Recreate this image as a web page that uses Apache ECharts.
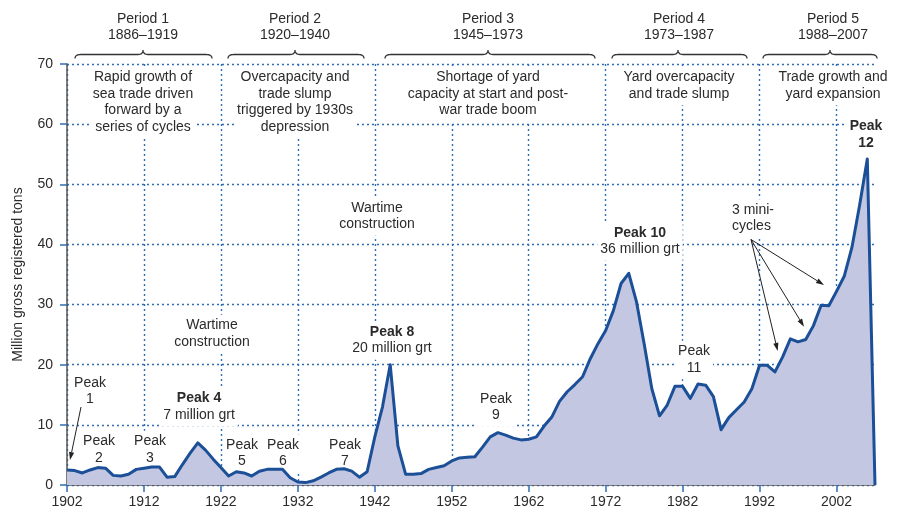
<!DOCTYPE html>
<html><head><meta charset="utf-8">
<script src="https://cdn.jsdelivr.net/npm/echarts@6/dist/echarts.min.js"></script>
<style>html,body{margin:0;padding:0;background:#fff}#c{width:900px;height:512px}</style>
</head><body><div id="c"></div>
<script>
// ---- data ----
const years = [1902,1903,1904,1905,1906,1907,1908,1909,1910,1911,1912,1913,1914,1915,1916,1917,1918,1919,1920,1921,
1922,1923,1924,1925,1926,1927,1928,1929,1930,1931,1932,1933,1934,1935,1936,1937,1938,1939,1940,1941,
1942,1943,1944,1945,1946,1947,1948,1949,1950,1951,1952,1953,1954,1955,1956,1957,1958,1959,1960,1961,
1962,1963,1964,1965,1966,1967,1968,1969,1970,1971,1972,1973,1974,1975,1976,1977,1978,1979,1980,1981,
1982,1983,1984,1985,1986,1987,1988,1989,1990,1991,1992,1993,1994,1995,1996,1997,1998,1999,2000,2001,
2002,2003,2004,2005,2006,2007];
const tonnage = [2.5,2.4,2.0,2.5,2.9,2.8,1.6,1.5,1.8,2.6,2.8,3.0,3.0,1.3,1.4,3.4,5.3,7.0,5.8,4.3,
2.9,1.5,2.2,2.0,1.5,2.3,2.6,2.6,2.6,1.2,0.5,0.4,0.7,1.3,2.0,2.6,2.7,2.3,1.3,2.2,
8.0,13.0,20.0,6.5,1.8,1.8,1.9,2.6,2.9,3.2,4.0,4.5,4.6,4.7,6.3,8.0,8.7,8.3,7.8,7.5,
7.6,8.0,9.8,11.3,13.9,15.5,16.7,18.0,21.0,23.5,25.7,29.0,33.5,35.2,30.5,23.5,16.0,11.5,13.3,16.4,
16.4,14.4,16.8,16.6,14.7,9.2,11.2,12.5,13.8,16.0,19.9,19.9,18.8,21.3,24.3,23.8,24.2,26.5,29.9,29.8,
32.2,34.7,39.5,46.5,54.2,0];
const xTickValues = [1902,1912,1922,1932,1942,1952,1962,1972,1982,1992,2002];
const yTickValues = [0,10,20,30,40,50,60,70];
const periodNames = ['Period 1','Period 2','Period 3','Period 4','Period 5'];
const periodRanges = ['1886–1919','1920–1940','1945–1973','1973–1987','1988–2007'];
const periodTexts = ['Rapid growth of\nsea trade driven\nforward by a\nseries of cycles',
  'Overcapacity and\ntrade slump\ntriggered by 1930s\ndepression',
  'Shortage of yard\ncapacity at start and post-\nwar trade boom',
  'Yard overcapacity\nand trade slump',
  'Trade growth and\nyard expansion'];

// ---- layout of annotations (pixels) ----
const FONT = "'Liberation Sans', Arial, Helvetica, sans-serif";
const TXT = '#2b2b2b';
const LH = 16.7;
const periodX = [143, 295, 488, 679, 833];
const braces = [[75,143,212],[228,295,364],[385,488,595],[612,678,747],[763,830,877]];
const notes = [
  {x:212, y:334, t:'Wartime\nconstruction'},
  {x:377, y:216.5, t:'Wartime\nconstruction'},
  {x:90, y:391.5, t:'Peak\n1'},
  {x:99, y:450, t:'Peak\n2'},
  {x:150, y:450, t:'Peak\n3'},
  {x:199, y:407, t:'{b|Peak 4}\n7 million grt'},
  {x:242, y:453.5, t:'Peak\n5'},
  {x:283, y:453.5, t:'Peak\n6'},
  {x:345, y:453.5, t:'Peak\n7'},
  {x:392, y:340.5, t:'{b|Peak 8}\n20 million grt'},
  {x:496, y:407.5, t:'Peak\n9'},
  {x:640, y:241.5, t:'{b|Peak 10}\n36 million grt'},
  {x:694, y:360, t:'Peak\n11'},
  {x:866, y:135, t:'{b|Peak}\n{b|12}'},
  {x:729, y:218.5, t:'3 mini-\ncycles', align:'left'}
];
const arrows = [[81,407,70,460],[751,239.5,777.7,351],[751,239.5,804,326.7],[751,239.5,824,285]];

const rich = {b:{fontFamily:FONT, fontSize:14, fontWeight:'bold', fill:TXT, lineHeight:LH}};
const graphics = [];
function addText(x, y, t, opts) {
  opts = opts || {};
  const st = {text:t, fontFamily:FONT, fontSize:14, fill:TXT, align:opts.align || 'center',
      verticalAlign:'middle', lineHeight:LH, rich:rich};
  if (opts.bg !== false) { st.backgroundColor = '#fff'; st.padding = [2,3,3,3]; }
  graphics.push({type:'text', x:x, y:y, z: opts.z || 1, silent:true, style:st});
}
periodX.forEach((x,i) => {
  addText(x, 27, periodNames[i] + '\n' + periodRanges[i], {bg:false, z:5});
  const lines = periodTexts[i].split('\n').length;
  addText(x, 77.7 + (lines - 1) * LH / 2, periodTexts[i]);
});
notes.forEach(n => addText(n.x, n.y, n.t, {align:n.align}));
function quad(p0, p1, p2, pts) {
  for (let k = 1; k <= 8; k++) {
    const t = k / 8, a = (1-t)*(1-t), b = 2*(1-t)*t, c = t*t;
    pts.push([a*p0[0]+b*p1[0]+c*p2[0], a*p0[1]+b*p1[1]+c*p2[1]]);
  }
}
braces.forEach(b => {
  const [x1, xm, x2] = b, yb = 58.5, yh = 54.5, yt = 50;
  const pts = [[x1, yb]];
  quad([x1,yb],[x1,yh],[x1+6,yh],pts);
  pts.push([xm-5,yh]);
  quad([xm-5,yh],[xm,yh],[xm,yt],pts);
  quad([xm,yt],[xm,yh],[xm+5,yh],pts);
  pts.push([x2-6,yh]);
  quad([x2-6,yh],[x2,yh],[x2,yb],pts);
  graphics.push({type:'polyline', z:5, silent:true, shape:{points:pts}, style:{stroke:'#333', fill:null, lineWidth:1.3}});
});
arrows.forEach(a => {
  const [x1,y1,x2,y2] = a;
  const dx = x2-x1, dy = y2-y1, L = Math.hypot(dx,dy), ux = dx/L, uy = dy/L;
  const hl = 8, hw = 2.6;
  const bx = x2 - ux*hl, by = y2 - uy*hl;
  graphics.push({type:'line', z:5, silent:true, shape:{x1:x1,y1:y1,x2:bx,y2:by}, style:{stroke:'#222', lineWidth:1}});
  graphics.push({type:'polygon', z:5, silent:true, shape:{points:[[x2,y2],[bx-uy*hw,by+ux*hw],[bx+uy*hw,by-ux*hw]]}, style:{fill:'#222'}});
});

const chart = echarts.init(document.getElementById('c'), null, {renderer:'canvas'});
const grid = {color:'#2f6db5', type:[2,3], width:1.4};
chart.setOption({
  animation:false,
  backgroundColor:'#fff',
  grid:{left:67, right:25, top:64, bottom:27, containLabel:false},
  xAxis:{type:'value', min:1902, max:2007, interval:10,
    axisLine:{show:true, lineStyle:{color:'#555', width:1.5}},
    axisTick:{show:true, length:7, customValues:xTickValues, lineStyle:{color:'#2f6db5', width:1.5}},
    axisLabel:{customValues:xTickValues, color:TXT, fontSize:14, fontFamily:FONT, margin:10, formatter:v=>String(v)},
    splitLine:{show:true, lineStyle:grid}},
  yAxis:{type:'value', min:0, max:70, interval:10,
    name:'Million gross registered tons', nameLocation:'middle', nameGap:42,
    nameTextStyle:{color:TXT, fontSize:14, fontFamily:FONT},
    axisLine:{show:true, lineStyle:{color:'#555', width:1.5}},
    axisTick:{show:true, length:7, lineStyle:{color:'#2f6db5', width:1.5}},
    axisLabel:{color:TXT, fontSize:14, fontFamily:FONT, margin:14},
    splitLine:{show:true, lineStyle:grid}},
  series:[{type:'line', z:2, data:years.map((y,i)=>[y, tonnage[i]]), symbol:'none', smooth:false,
    lineStyle:{color:'#1b4f97', width:3, join:'round'},
    areaStyle:{color:'#c3c7e1', opacity:1}}],
  graphic:{elements:graphics}
});
</script></body></html>
